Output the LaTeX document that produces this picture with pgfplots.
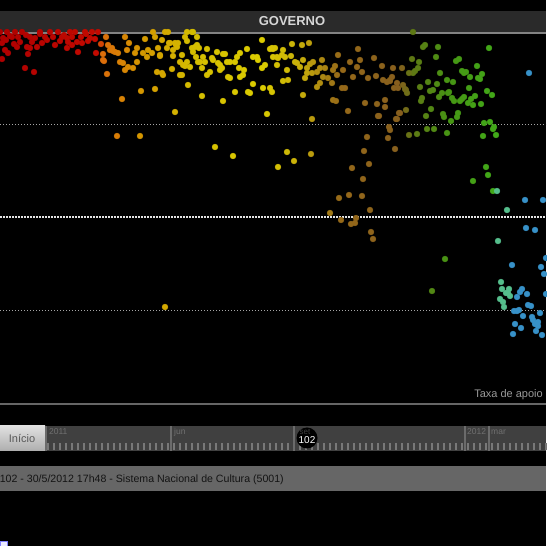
\documentclass[border=0pt]{standalone}
\usepackage{fontspec}
\setmainfont{Liberation Sans}
\usepackage{pgfplots}
\pgfplotsset{compat=1.18}
\definecolor{hdr}{RGB}{42,42,42}
\definecolor{hdrline}{RGB}{130,130,130}
\definecolor{teal1}{RGB}{85,190,140}
\definecolor{blue1}{RGB}{55,145,200}
\begin{document}
\begin{tikzpicture}[x=1pt,y=1pt]
% background
\fill[black] (0,0) rectangle (546,546);
% header
\fill[hdr] (0,514) rectangle (546,535);
\draw[hdrline,line width=2pt] (0,513) -- (546,513);
\node[text=white!84!black,font=\fontsize{13}{15}\selectfont\bfseries] at (292,525) {GOVERNO};
% reference lines
\draw[white!65!black,line width=0.9pt,dash pattern=on 1pt off 2pt] (0,422) -- (546,422);
\draw[white!90!black,line width=1.4pt,dash pattern=on 1.5pt off 1.5pt] (0,329) -- (546,329);
\draw[white!65!black,line width=0.9pt,dash pattern=on 1pt off 2pt] (0,236) -- (546,236);
\draw[white!40!black,line width=1.2pt] (0,142) -- (546,142);
\node[anchor=base east,text=white!60!black,font=\fontsize{11}{13}\selectfont,inner sep=0pt] at (543,148) {Taxa de apoio};
% slider
\fill[white!25!black] (45,95) rectangle (546,120);
\shade[top color=white!88!black,bottom color=white!68!black] (0,95) rectangle (45,120);
\node[text=white!35!black,font=\fontsize{11}{13}\selectfont] at (22,107) {Início};
\foreach \xx in {48,54,...,546} {\draw[white!47!black,line width=1.2pt] (\xx,96) -- (\xx,103);}
\foreach \xx in {46,171,294,465,489} {\draw[white!42!black,line width=1.2pt] (\xx,95) -- (\xx,120);}
\foreach \xx/\lab in {49/2011,174/jun,467/2012,491/mar} {\node[anchor=base west,inner sep=0pt,text=white!44!black,font=\fontsize{8.5}{10}\selectfont] at (\xx,111) {\lab};}
\fill[black] (307,108) circle (10.5);
\node[anchor=base,inner sep=0pt,text=white!25!black,font=\fontsize{8}{9}\selectfont] at (305,111) {set};
\node[text=white,font=\fontsize{10}{12}\selectfont] at (307,105.5) {102};
% status bar
\fill[white!40!black] (0,55) rectangle (546,80);
\node[anchor=base east,inner sep=0pt,text=black!92!white,font=\fontsize{10.6}{12}\selectfont] at (284,63) {102 - 30/5/2012 17h48 - Sistema Nacional de Cultura (5001)};
\filldraw[fill=blue!8!white,draw=blue!50!white,line width=0.6pt] (0,0) rectangle (7,5);
\begin{axis}[at={(0,0)},anchor=south west,width=546pt,height=546pt,scale only axis,
  xmin=0,xmax=546,ymin=0,ymax=546,y dir=reverse,hide axis,clip=true,
  colormap={gov}{rgb255(0pt)=(175,0,0); rgb255(98pt)=(195,10,0); rgb255(103pt)=(220,110,10);
    rgb255(140pt)=(212,150,0); rgb255(190pt)=(212,188,0); rgb255(260pt)=(220,205,0);
    rgb255(300pt)=(200,175,10); rgb255(340pt)=(150,105,25); rgb255(400pt)=(135,95,30);
    rgb255(412pt)=(95,120,20); rgb255(450pt)=(70,150,20); rgb255(546pt)=(60,190,30)},
  point meta min=0,point meta max=546]
\addplot[scatter,only marks,mark=*,mark size=2.9pt,scatter src=x,
  scatter/use mapped color={draw=mapped color,fill=mapped color}] coordinates {
(0,32)(7,32)(15,32)(22,32)(40,32)(50,32)(58,32)(70,32)(75,32)(85,32)(92,32)(98,32)
(3,38)(12,37)(18,37)(30,37)(35,38)(45,37)(53,37)(62,37)(67,38)(72,37)(81,37)(90,38)
(2,43)(20,42)(32,42)(42,43)(55,45)(68,42)(77,42)(88,41)(95,39)
(17,47)(27,47)(37,47)(72,45)(82,43)(5,50)(30,48)(67,48)(78,52)(96,53)(8,53)(28,54)
(2,59)(25,68)(34,72)(10,36)(47,40)(60,41)(64,35)(86,34)(14,44)(40,34)(26,35)(6,40)
(106,37)(101,44)(108,45)(112,48)(115,52)(118,53)(103,54)(104,61)(107,74)(120,62)
(125,37)(129,43)(127,50)(123,63)(128,67)(125,70)(133,68)(137,48)(135,53)(137,62)
(143,53)(145,39)(148,50)(147,57)(122,99)(141,91)(117,136)(140,136)(103,60)(110,50)(113,51)
(152,53)(153,32)(155,37)(158,48)(160,55)(162,40)(165,32)(168,32)(157,72)(163,75)
(167,48)(170,43)(173,50)(176,45)(178,43)(182,55)(183,65)(180,62)(187,62)(172,69)
(182,75)(185,37)(192,32)(193,32)(187,32)(197,37)(197,45)(198,62)(192,48)(195,47)
(169,43)(175,43)(177,47)(187,41)(193,52)(173,56)(160,56)(199,48)(207,49)(217,52)
(223,54)(225,54)(196,57)(203,57)(200,62)(205,62)(212,58)(213,60)(218,63)(220,65)
(222,68)(227,62)(230,62)(235,62)(237,57)(240,53)(247,49)(253,57)(257,57)(258,60)
(262,40)(265,65)(262,68)(270,49)(273,49)(277,57)(277,65)(185,66)(190,67)(180,75)
(188,85)(202,68)(207,75)(210,72)(220,70)(228,77)(230,78)(240,77)(243,75)(239,68)
(244,70)(253,84)(248,92)(250,93)(263,88)(270,88)(272,92)(235,92)(202,96)(223,101)
(175,112)(267,114)(162,73)(155,89)(215,147)(233,156)(165,307)
(272,48)(275,48)(273,57)(278,58)(282,55)(283,50)(285,57)(287,70)(283,81)(288,80)
(292,44)(291,56)(295,62)(297,63)(300,67)(302,45)(303,60)(305,78)(307,68)(307,73)
(309,43)(310,64)(313,62)(312,73)(317,72)(320,68)(322,60)(320,83)(317,87)(323,77)
(325,68)(328,78)(332,83)(333,70)(335,66)(337,75)(338,55)(303,95)(312,119)(342,88)
(345,88)(343,70)(350,62)(353,77)(357,67)(358,49)(360,60)(362,72)(333,100)(336,101)
(348,111)(365,103)(368,78)(374,58)(376,76)(377,104)(378,116)(382,66)(383,80)(385,100)
(385,107)(387,82)(390,80)(392,77)(393,68)(394,88)(397,83)(398,88)(400,113)(402,68)
(403,85)(397,119)(406,110)(406,90)(405,89)(407,93)(390,81)(390,130)
(287,152)(294,161)(278,167)(311,154)(379,116)(396,119)(389,127)(388,138)(395,149)
(367,137)(364,151)(369,164)(352,168)(363,179)(339,198)(349,195)(362,196)(370,210)
(330,213)(341,220)(356,218)(351,224)(355,223)(371,232)(373,239)(399,113)
(413,32)(423,47)(425,45)(438,47)(436,57)(412,59)(419,62)(418,68)(415,71)(413,73)
(409,73)(440,73)(447,80)(453,82)(456,61)(459,59)(462,71)(466,72)(464,73)(470,77)
(477,66)(482,74)(478,78)(480,79)(489,48)(469,88)(475,96)(487,91)(492,95)(481,104)
(473,105)(468,103)(471,99)(464,97)(462,99)(460,101)(454,101)(452,98)(448,93)(449,92)
(442,93)(439,97)(437,84)(433,90)(430,91)(428,82)(420,87)(422,98)(421,101)(431,109)
(426,116)(443,114)(444,117)(451,121)(458,113)(457,117)(484,123)(490,122)(494,127)
(493,129)(447,133)(483,136)(496,135)(409,135)(417,134)(427,129)(434,129)(486,167)
(488,175)(473,181)(493,191)(445,259)(432,291)
};
\addplot[only marks,mark=*,mark size=2.9pt,mark options={draw=teal1,fill=teal1}] coordinates {
(497,191)(507,210)(498,241)(501,282)(502,289)(506,293)(509,289)(508,293)(503,302)
(504,307)(500,299)(510,296)
};
\addplot[only marks,mark=*,mark size=2.9pt,mark options={draw=blue1,fill=blue1}] coordinates {
(529,73)(525,200)(543,200)(526,228)(535,230)(546,258)(541,267)(544,274)(520,292)
(522,289)(517,297)(527,294)(528,305)(531,306)(546,294)(514,311)(517,311)(519,310)
(523,316)(540,313)(532,317)(533,320)(538,322)(535,324)(538,326)(515,324)(521,328)
(536,331)(542,335)(513,334)(512,265)
};
\end{axis}
\pgfresetboundingbox
\useasboundingbox (0,0) rectangle (546,546);
\end{tikzpicture}
\end{document}
